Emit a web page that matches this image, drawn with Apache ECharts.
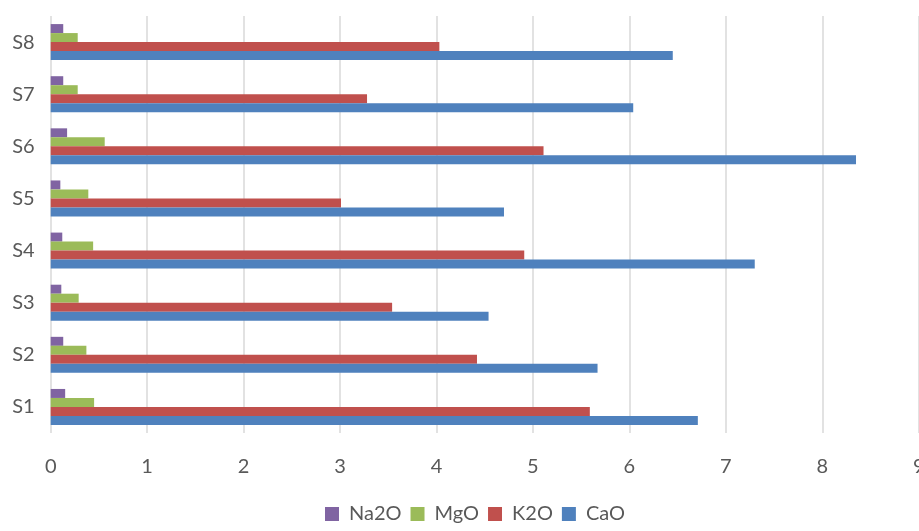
<!DOCTYPE html>
<html>
<head>
<meta charset="utf-8">
<script src="https://cdn.jsdelivr.net/npm/echarts@6/dist/echarts.min.js"></script>
<style>html,body{margin:0;padding:0;background:#fff;}#c{width:919px;height:531px;}</style>
</head>
<body>
<div id="c"></div>
<script>
const categories = ['S1','S2','S3','S4','S5','S6','S7','S8'];
const CaO  = [6.71, 5.67, 4.54, 7.30, 4.70, 8.35, 6.04, 6.45];
const K2O  = [5.59, 4.42, 3.54, 4.91, 3.01, 5.11, 3.28, 4.03];
const MgO  = [0.45, 0.37, 0.29, 0.44, 0.39, 0.56, 0.28, 0.28];
const Na2O = [0.15, 0.13, 0.11, 0.12, 0.10, 0.17, 0.13, 0.13];
const xTicks = [0,1,2,3,4,5,6,7,8,9];
const legendOrder = ['Na2O','MgO','K2O','CaO'];

const chart = echarts.init(document.getElementById('c'), null, {renderer:'canvas'});
const font = 'Lato, "Open Sans", sans-serif';
function s(name, data, color){
  return {name, type:'bar', data, itemStyle:{color}, barGap:'0%', barCategoryGap:'31%', animation:false};
}
chart.setOption({
  animation:false,
  backgroundColor:'#fff',
  grid:{left:50.7, right:0.3, top:16, bottom:98, containLabel:false, outerBoundsMode:'none'},
  legend:{
    data:legendOrder, bottom:2, left:320,
    itemWidth:14, itemHeight:14, itemGap:9, icon:'rect',
    textStyle:{fontFamily:font, fontSize:20, color:'#595959', padding:[0,0,0,5]}
  },
  xAxis:{
    type:'value', min:xTicks[0], max:xTicks[xTicks.length-1], interval:1,
    axisLine:{show:false}, axisTick:{show:false},
    axisLabel:{fontFamily:font, fontSize:20, color:'#595959', margin:24, showMaxLabel:true},
    splitLine:{show:true, lineStyle:{color:'#d9d9d9', width:1.5}}
  },
  yAxis:{
    type:'category', data:categories,
    axisLine:{show:false}, axisTick:{show:false},
    axisLabel:{fontFamily:font, fontSize:20, color:'#595959', margin:16}
  },
  series:[
    s('Na2O', Na2O, '#8064A2'),
    s('MgO', MgO, '#9BBB59'),
    s('K2O', K2O, '#C0504D'),
    s('CaO', CaO, '#4F81BD')
  ]
});
</script>
</body>
</html>
